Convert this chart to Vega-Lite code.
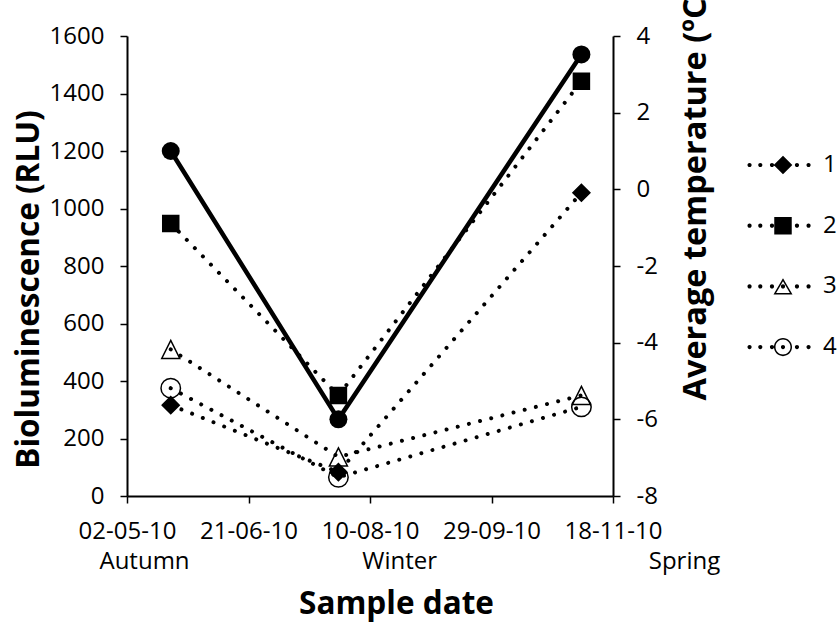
{
  "$schema": "https://vega.github.io/schema/vega-lite/v6.json",
  "width": 486,
  "height": 460,
  "autosize": {"type": "none"},
  "padding": {"left": 127, "top": 36, "right": 226, "bottom": 126},
  "background": "white",
  "config": {
    "view": {"stroke": null},
    "font": "Open Sans",
    "axis": {
      "grid": false,
      "domainColor": "black",
      "domainWidth": 2,
      "tickColor": "black",
      "tickWidth": 1.5,
      "labelColor": "black",
      "labelFont": "Open Sans",
      "labelFontSize": 24,
      "titleColor": "black",
      "titleFont": "Open Sans",
      "titleFontWeight": "bold",
      "titleFontSize": 31.5
    }
  },
  "datasets": {
    "bio": [
      {"date": "2010/05/20", "series": "1", "rlu": 316},
      {"date": "2010/07/28", "series": "1", "rlu": 83},
      {"date": "2010/11/05", "series": "1", "rlu": 1055},
      {"date": "2010/05/20", "series": "2", "rlu": 948},
      {"date": "2010/07/28", "series": "2", "rlu": 350},
      {"date": "2010/11/05", "series": "2", "rlu": 1443},
      {"date": "2010/05/20", "series": "3", "rlu": 510},
      {"date": "2010/07/28", "series": "3", "rlu": 136},
      {"date": "2010/11/05", "series": "3", "rlu": 350},
      {"date": "2010/05/20", "series": "4", "rlu": 375},
      {"date": "2010/07/28", "series": "4", "rlu": 65},
      {"date": "2010/11/05", "series": "4", "rlu": 310}
    ],
    "temp": [
      {"date": "2010/05/20", "temp": 1.0},
      {"date": "2010/07/28", "temp": -6.0},
      {"date": "2010/11/05", "temp": 3.52}
    ]
  },
  "layer": [
    {
      "data": {"name": "bio"},
      "encoding": {
        "x": {
          "field": "date", "type": "temporal",
          "scale": {"domain": [{"year": 2010, "month": 5, "date": 2}, {"year": 2010, "month": 11, "date": 18}], "nice": false},
          "axis": {
            "orient": "bottom",
            "values": [
              {"year": 2010, "month": 5, "date": 2},
              {"year": 2010, "month": 6, "date": 21},
              {"year": 2010, "month": 8, "date": 10},
              {"year": 2010, "month": 9, "date": 29},
              {"year": 2010, "month": 11, "date": 18}
            ],
            "format": "%d-%m-%y",
            "tickSize": 7,
            "labelPadding": 35,
            "labelBaseline": "alphabetic",
            "labelAlign": "center",
            "labelOverlap": false,
            "labelFlush": false,
            "title": "Sample date",
            "titleX": 269,
            "titleY": 117,
            "titleAlign": "center",
            "titleBaseline": "alphabetic"
          }
        },
        "y": {
          "field": "rlu", "type": "quantitative",
          "scale": {"domain": [0, 1600], "nice": false},
          "axis": {
            "orient": "left",
            "values": [0, 200, 400, 600, 800, 1000, 1200, 1400, 1600],
            "format": "d",
            "tickSize": 7,
            "labelPadding": 16,
            "title": "Bioluminescence (RLU)",
            "titleAngle": 270,
            "titleX": -89,
            "titleY": 253,
            "titleAlign": "center",
            "titleBaseline": "alphabetic"
          }
        }
      },
      "layer": [
        {
          "mark": {"type": "line", "color": "black", "strokeWidth": 4, "strokeCap": "round", "strokeDash": [0.01, 11.5]},
          "encoding": {"detail": {"field": "series"}}
        },
        {
          "mark": {"type": "point", "filled": true, "stroke": "black", "strokeWidth": 1.5, "opacity": 1},
          "encoding": {
            "shape": {
              "field": "series", "type": "nominal",
              "scale": {"domain": ["1", "2", "3", "4"], "range": ["diamond", "square", "M0,-1L1,1L-1,1Z", "circle"]},
              "legend": null
            },
            "fill": {
              "condition": {"test": "datum.series === '1' || datum.series === '2'", "value": "black"},
              "value": "transparent"
            },
            "size": {
              "condition": [
                {"test": "datum.series === '1'", "value": 289},
                {"test": "datum.series === '2'", "value": 256},
                {"test": "datum.series === '3'", "value": 324}
              ],
              "value": 380
            }
          }
        },
        {
          "mark": {"type": "point", "filled": true, "color": "black", "strokeWidth": 0, "opacity": 0},
          "encoding": {
            "shape": {
              "field": "series", "type": "nominal",
              "scale": {
                "domain": ["1", "2", "3", "4"],
                "range": [
                  "M-3.74,0a0.22,0.22 0 1,0 0.44,0a0.22,0.22 0 1,0 -0.44,0ZM-2.61,0a0.22,0.22 0 1,0 0.44,0a0.22,0.22 0 1,0 -0.44,0ZM-1.38,0a0.22,0.22 0 1,0 0.44,0a0.22,0.22 0 1,0 -0.44,0ZM1.25,0a0.22,0.22 0 1,0 0.44,0a0.22,0.22 0 1,0 -0.44,0ZM2.47,0a0.22,0.22 0 1,0 0.44,0a0.22,0.22 0 1,0 -0.44,0ZM-0.98,0L0,-0.98L0.98,0L0,0.98Z",
                  "M-3.74,0a0.22,0.22 0 1,0 0.44,0a0.22,0.22 0 1,0 -0.44,0ZM-2.61,0a0.22,0.22 0 1,0 0.44,0a0.22,0.22 0 1,0 -0.44,0ZM-1.38,0a0.22,0.22 0 1,0 0.44,0a0.22,0.22 0 1,0 -0.44,0ZM1.25,0a0.22,0.22 0 1,0 0.44,0a0.22,0.22 0 1,0 -0.44,0ZM2.47,0a0.22,0.22 0 1,0 0.44,0a0.22,0.22 0 1,0 -0.44,0ZM-0.92,-0.92L0.92,-0.92L0.92,0.92L-0.92,0.92Z",
                  "M-3.74,0a0.22,0.22 0 1,0 0.44,0a0.22,0.22 0 1,0 -0.44,0ZM-2.61,0a0.22,0.22 0 1,0 0.44,0a0.22,0.22 0 1,0 -0.44,0ZM-1.38,0a0.22,0.22 0 1,0 0.44,0a0.22,0.22 0 1,0 -0.44,0ZM-0.22,0a0.22,0.22 0 1,0 0.44,0a0.22,0.22 0 1,0 -0.44,0ZM1.25,0a0.22,0.22 0 1,0 0.44,0a0.22,0.22 0 1,0 -0.44,0ZM2.47,0a0.22,0.22 0 1,0 0.44,0a0.22,0.22 0 1,0 -0.44,0ZM0,-0.85L1,0.85L-1,0.85ZM0,-0.542L-0.727,0.694L0.727,0.694Z",
                  "M-3.74,0a0.22,0.22 0 1,0 0.44,0a0.22,0.22 0 1,0 -0.44,0ZM-2.61,0a0.22,0.22 0 1,0 0.44,0a0.22,0.22 0 1,0 -0.44,0ZM-1.38,0a0.22,0.22 0 1,0 0.44,0a0.22,0.22 0 1,0 -0.44,0ZM-0.22,0a0.22,0.22 0 1,0 0.44,0a0.22,0.22 0 1,0 -0.44,0ZM1.25,0a0.22,0.22 0 1,0 0.44,0a0.22,0.22 0 1,0 -0.44,0ZM2.47,0a0.22,0.22 0 1,0 0.44,0a0.22,0.22 0 1,0 -0.44,0ZM-0.95,0a0.95,0.95 0 1,0 1.9,0a0.95,0.95 0 1,0 -1.9,0ZM-0.79,0a0.79,0.79 0 1,1 1.58,0a0.79,0.79 0 1,1 -1.58,0Z"
                ]
              },
              "legend": {
                "orient": "none",
                "legendX": 644,
                "legendY": 117,
                "title": null,
                "padding": 0,
                "rowPadding": 36.7,
                "symbolSize": 361,
                "symbolOffset": 0,
                "symbolOpacity": 1,
                "symbolFillColor": "black",
                "symbolStrokeColor": "transparent",
                "symbolStrokeWidth": 0,
                "labelOffset": 28,
                "labelFont": "Open Sans",
                "labelFontSize": 24,
                "labelColor": "black"
              }
            }
          }
        }
      ],
      "resolve": {"scale": {"shape": "independent"}}
    },
    {
      "data": {"name": "temp"},
      "encoding": {
        "x": {
          "field": "date", "type": "temporal",
          "scale": {"domain": [{"year": 2010, "month": 5, "date": 2}, {"year": 2010, "month": 11, "date": 18}], "nice": false},
          "axis": {
            "orient": "bottom",
            "values": [
              {"year": 2010, "month": 5, "date": 9},
              {"year": 2010, "month": 8, "date": 22},
              {"year": 2010, "month": 11, "date": 18}
            ],
            "labelExpr": "datum.index == 0 ? 'Autumn' : (datum.index == 1 ? 'Spring' : 'Winter')",
            "ticks": false,
            "domain": false,
            "labelPadding": 72,
            "labelBaseline": "alphabetic",
            "labelAlign": "center",
            "labelOffset": {"condition": {"test": "datum.index == 1", "value": 71}, "value": 0},
            "labelOverlap": false,
            "labelFlush": false,
            "labelBound": false,
            "title": null
          }
        },
        "y": {
          "field": "temp", "type": "quantitative",
          "scale": {"domain": [-8, 4], "nice": false},
          "axis": {
            "orient": "right",
            "values": [-8, -6, -4, -2, 0, 2, 4],
            "labelExpr": "replace(datum.label, '−', '-')",
            "tickSize": 7,
            "labelPadding": 16,
            "title": "Average temperature (ºC)",
            "titleFontSize": 32.5,
            "titleAngle": 270,
            "titleX": 92,
            "titleY": 364,
            "titleAlign": "left",
            "titleBaseline": "alphabetic"
          }
        }
      },
      "layer": [
        {"mark": {"type": "line", "color": "black", "strokeWidth": 4.5}, "encoding": {}},
        {"mark": {"type": "point", "shape": "circle", "filled": true, "color": "black", "size": 324, "opacity": 1}, "encoding": {}}
      ]
    }
  ],
  "resolve": {"scale": {"y": "independent"}, "axis": {"x": "independent"}}
}
